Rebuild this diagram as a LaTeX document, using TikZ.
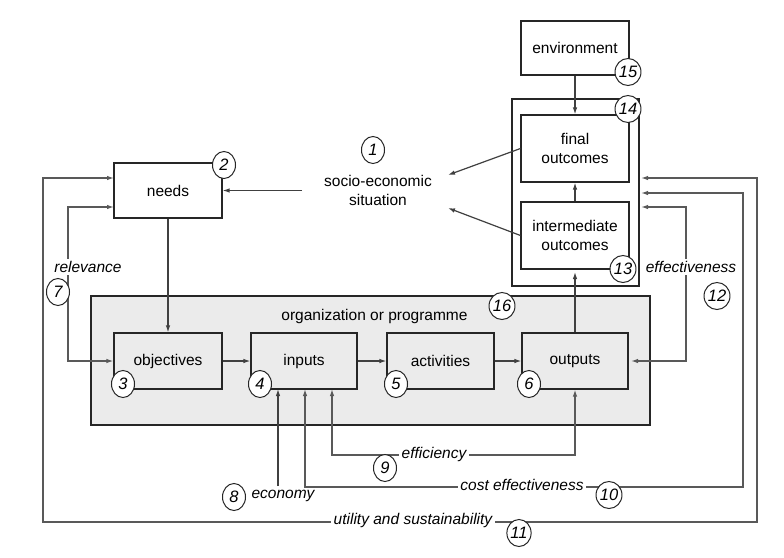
\documentclass[tikz,border=0pt]{standalone}
\usepackage{fontspec}
\setmainfont{Liberation Sans}
\usetikzlibrary{arrows.meta,shapes.geometric}
\begin{document}
\begin{tikzpicture}[x=1pt,y=-1pt,
  font=\fontsize{15.5}{18.6}\selectfont,
  box/.style={draw=black!85,line width=1.1pt,inner sep=0pt},
  num/.style={ellipse,draw=black!85,fill=white,line width=1pt,minimum width=23pt,minimum height=27pt,inner sep=0pt,font=\fontsize{16.5}{18}\selectfont\itshape},
  lab/.style={fill=white,inner sep=2.5pt,font=\fontsize{15.5}{18.6}\selectfont\itshape},
  conn/.style={draw=black!75,line width=1.2pt,-{Latex[length=7pt,width=4.5pt]}},
  both/.style={draw=black!65,line width=1.3pt,{Latex[length=7pt,width=4.5pt]}-{Latex[length=7pt,width=4.5pt]}},
]
\useasboundingbox[fill=white] (0,0) rectangle (784,557);

% organisation box
\node[box,fill=black!8,minimum width=559pt,minimum height=129pt] (org) at (370.5,360.5) {};
\node (orglab) at (374.5,316.5) {organization or programme};

% boxes
\node[box,minimum width=108pt,minimum height=54pt] (env) at (575,48) {environment};
\node[box,minimum width=127pt,minimum height=187pt] (outc) at (575.5,192.5) {};
\node[box,minimum width=108pt,minimum height=67pt,align=center] (final) at (575,148.5) {final\\outcomes};
\node[box,minimum width=108pt,minimum height=67pt,align=center] (inter) at (575,235.5) {intermediate\\outcomes};
\node[align=center,inner sep=0pt] (socio) at (378,190.5) {socio-economic\\situation};
\node[box,minimum width=108pt,minimum height=55pt] (needs) at (168,190.5) {needs};
\node[box,minimum width=108pt,minimum height=56pt] (objectives) at (168,361) {objectives};
\node[box,minimum width=106pt,minimum height=56pt] (inputs) at (304,361) {inputs};
\node[box,minimum width=107pt,minimum height=56pt] (activities) at (440.5,361) {activities};
\node[box,minimum width=106pt,minimum height=56pt] (outputs) at (575,361) {outputs};

% free ends
\coordinate (sL) at (302,190.5);
\coordinate (sA) at (448,175);
\coordinate (sB) at (448,208);
\coordinate (r1) at (641,178);
\coordinate (r2) at (641,193);
\coordinate (r3) at (641,207);
\coordinate (nd1) at (114,178);
\coordinate (nd2) at (114,207);
\coordinate (inA) at (278,389);
\coordinate (inB) at (305,389);
\coordinate (inC) at (332,389);
\coordinate (ecoStart) at (278,486);
\coordinate (outE) at (631,361);
\coordinate (intB) at (575,272);

% connectors
\draw[conn] (env.south) -- (final.north);
\draw[conn] (inter.north) -- (final.south);
\draw[conn] (final.west) -- (sA);
\draw[conn] (inter.west) -- (sB);
\draw[conn] (sL) -- (needs.east);
\draw[conn] (needs.south) -- (objectives.north);
\draw[conn] (objectives.east) -- (inputs.west);
\draw[conn] (inputs.east) -- (activities.west);
\draw[conn] (activities.east) -- (outputs.west);
\draw[conn] (outputs.north) -- (intB);

\draw[both] (nd2) -- (68,207) -- (68,361) -- (objectives.west);
\draw[both] (r1) -- (757,178) -- (757,522) -- (43,522) -- (43,178) -- (nd1);
\draw[both] (r2) -- (743,193) -- (743,487) -- (305,487) -- (inB);
\draw[both] (r3) -- (686,207) -- (686,361) -- (outE);
\draw[both] (outputs.south) -- (575,455) -- (332,455) -- (inC);
\draw[conn] (ecoStart) -- (inA);

% labels
\node[lab] (relev) at (88,267) {relevance};
\node[lab] (effect) at (691,267) {effectiveness};
\node[lab] (effic) at (434,454) {efficiency};
\node[lab] (coste) at (522,485) {cost effectiveness};
\node[lab] (util) at (413,520) {utility and sustainability};
\node[lab,fill=none] (econ) at (283,496) {economy};

% numbers
\node[num] (n1) at (373,150) {1};
\node[num] (n2) at (224,165) {2};
\node[num] (n3) at (123,384) {3};
\node[num] (n4) at (260,384) {4};
\node[num] (n5) at (396,384) {5};
\node[num] (n6) at (529,384) {6};
\node[num] (n7) at (58,292) {7};
\node[num] (n8) at (234,497) {8};
\node[num] (n9) at (385,468) {9};
\node[num] (n10) at (609,495) {10};
\node[num] (n11) at (519,533) {11};
\node[num] (n12) at (717,296) {12};
\node[num] (n13) at (623,269) {13};
\node[num] (n14) at (628,109) {14};
\node[num] (n15) at (628,72) {15};
\node[num] (n16) at (502,306) {16};
\end{tikzpicture}
\end{document}
